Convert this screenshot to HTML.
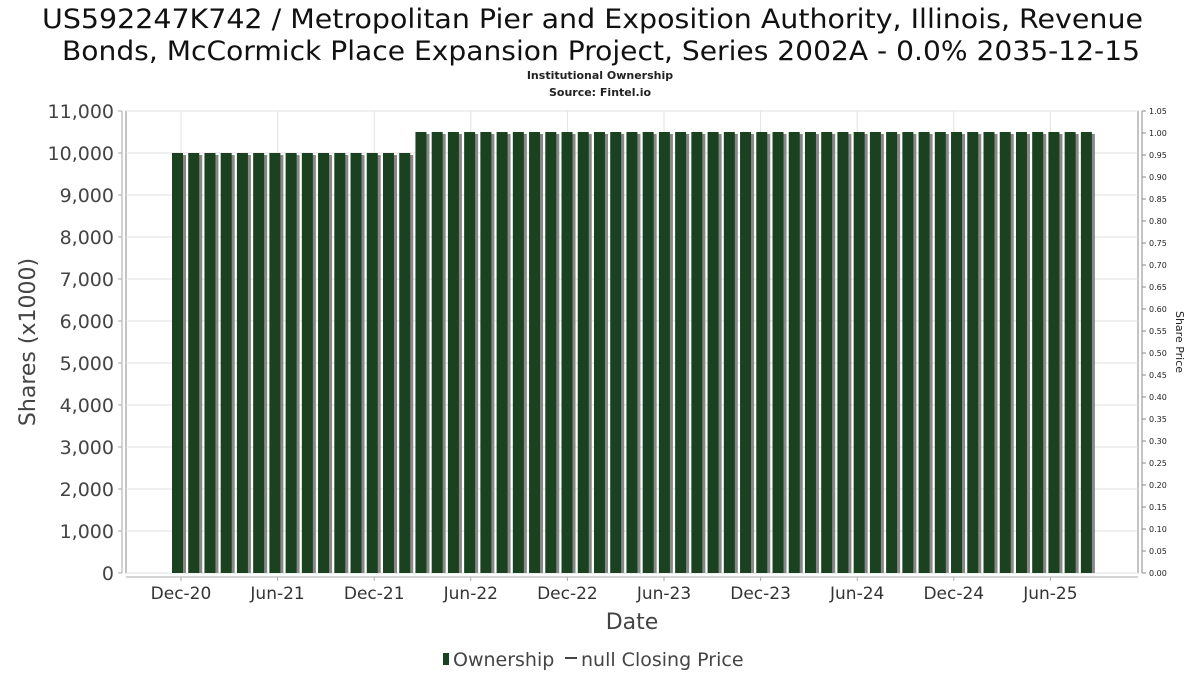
<!DOCTYPE html>
<html><head><meta charset="utf-8"><style>
body{margin:0;background:#fff;width:1200px;height:675px;overflow:hidden}
svg text{font-family:"DejaVu Sans","Liberation Sans",sans-serif}
</style></head><body>
<svg id="chart" width="1200" height="675" xmlns="http://www.w3.org/2000/svg">
<text x="42" y="28" textLength="1101" lengthAdjust="spacingAndGlyphs" font-size="27" fill="#111">US592247K742 / Metropolitan Pier and Exposition Authority, Illinois, Revenue</text>
<text x="62" y="60" textLength="1078" lengthAdjust="spacingAndGlyphs" font-size="27" fill="#111">Bonds, McCormick Place Expansion Project, Series 2002A - 0.0% 2035-12-15</text>
<text x="600" y="79" text-anchor="middle" font-size="11" font-weight="bold" fill="#222">Institutional Ownership</text>
<text x="600" y="96" text-anchor="middle" font-size="11" font-weight="bold" fill="#222">Source: Fintel.io</text>
<rect x="126" y="111" width="1012" height="462" fill="#fff" stroke="#888" stroke-width="1"/>
<g id="grid"></g>
<g id="bars"></g>
<g id="axes"></g>
<text transform="translate(35,342) rotate(-90)" text-anchor="middle" font-size="22" fill="#444">Shares (x1000)</text>
<text transform="translate(1176,342) rotate(90)" text-anchor="middle" font-size="11" fill="#222">Share Price</text>
<text x="632" y="629" text-anchor="middle" font-size="22" fill="#444">Date</text>
<g>
<rect x="443" y="653" width="6" height="12" fill="#1a4220"/>
<text x="453" y="666" font-size="19" fill="#444">Ownership</text>
<line x1="565" y1="658" x2="577" y2="658" stroke="#444" stroke-width="2"/>
<text x="581" y="666" font-size="19" fill="#444">null Closing Price</text>
</g>
</svg>
<script>
// monthly values, Dec-20 .. Aug-25 (thousands of shares)
const categories = [];
for (let i = 0; i < 57; i++) { const d = new Date(2020, 11 + i, 1); categories.push(d.getFullYear() + '-' + String(d.getMonth() + 1).padStart(2, '0')); }
const ownership = [10000,10000,10000,10000,10000,10000,10000,10000,10000,10000,10000,10000,10000,10000,10000,
10500,10500,10500,10500,10500,10500,10500,10500,10500,10500,10500,10500,10500,10500,10500,10500,10500,10500,10500,10500,10500,10500,10500,10500,10500,10500,10500,10500,10500,10500,10500,10500,10500,10500,10500,10500,10500,10500,10500,10500,10500,10500];
const yTicks = [0,1000,2000,3000,4000,5000,6000,7000,8000,9000,10000,11000];
const y2Ticks = [0,0.05,0.1,0.15,0.2,0.25,0.3,0.35,0.4,0.45,0.5,0.55,0.6,0.65,0.7,0.75,0.8,0.85,0.9,0.95,1.0,1.05];
const xTickLabels = ['Dec-20','Jun-21','Dec-21','Jun-22','Dec-22','Jun-23','Dec-23','Jun-24','Dec-24','Jun-25'];
const xTickMonths = [0,6,12,18,24,30,36,42,48,54];

const NS = 'http://www.w3.org/2000/svg';
const pTop = 111, pBottom = 573, pLeft = 126, pRight = 1138;
const yS = v => pBottom - v / 11000 * (pBottom - pTop);
const y2S = v => pBottom - v / 1.05 * (pBottom - pTop);
const xBar = i => 177.5 + i * 16.23;
const xTick = m => 181 + m * 16.1;
function mk(tag, attrs, parent) { const e = document.createElementNS(NS, tag); for (const k in attrs) e.setAttribute(k, attrs[k]); parent.appendChild(e); return e; }
const grid = document.getElementById('grid'), bars = document.getElementById('bars'), axes = document.getElementById('axes');

yTicks.forEach(v => {
  const l = mk('line', {x1: pLeft, x2: pRight, y1: yS(v), y2: yS(v), stroke: '#e2e2e2'}, grid);
  
  
  const t = mk('text', {x: 114, y: yS(v) + 7, 'text-anchor': 'end', 'font-size': 19, fill: '#444'}, axes);
  
  
  t.textContent = v.toLocaleString('en-US');
  mk('line', {x1: 118, x2: 122, y1: yS(v), y2: yS(v), stroke: '#aaa'}, axes);
});
mk('line', {x1: 122, x2: 122, y1: pTop, y2: pBottom, stroke: '#aaa'}, axes);
mk('line', {x1: pLeft, x2: pRight, y1: 577, y2: 577, stroke: '#aaa'}, axes);
y2Ticks.forEach(v => {
  mk('line', {x1: 1142, x2: 1146, y1: y2S(v), y2: y2S(v), stroke: '#888'}, axes);
  const t = mk('text', {x: 1149, y: y2S(v) + 3, 'font-size': 8, fill: '#222'}, axes);
  
  
  t.textContent = v.toFixed(2);
});
mk('line', {x1: 1142, x2: 1142, y1: pTop, y2: pBottom, stroke: '#888'}, axes);
xTickMonths.forEach((m, i) => {
  const x = xTick(m);
  const l = mk('line', {x1: x, x2: x, y1: pTop, y2: pBottom, stroke: '#e2e2e2'}, grid);
  
  
  mk('line', {x1: x, x2: x, y1: 577, y2: 581, stroke: '#aaa'}, axes);
  const t = mk('text', {x: x, y: 599, 'text-anchor': 'middle', 'font-size': 17, fill: '#333'}, axes);
  
  
  t.textContent = xTickLabels[i];
});
ownership.forEach((v, i) => {
  const cx = xBar(i), w = 11;
  mk('rect', {x: cx - w / 2 + 3, y: yS(v) + 2, width: w, height: pBottom - yS(v) - 2, fill: '#888'}, bars);
  const r = mk('rect', {x: cx - w / 2, y: yS(v), width: w, height: pBottom - yS(v), fill: '#1a4220'}, bars);
  
  
});
</script>
</body></html>
